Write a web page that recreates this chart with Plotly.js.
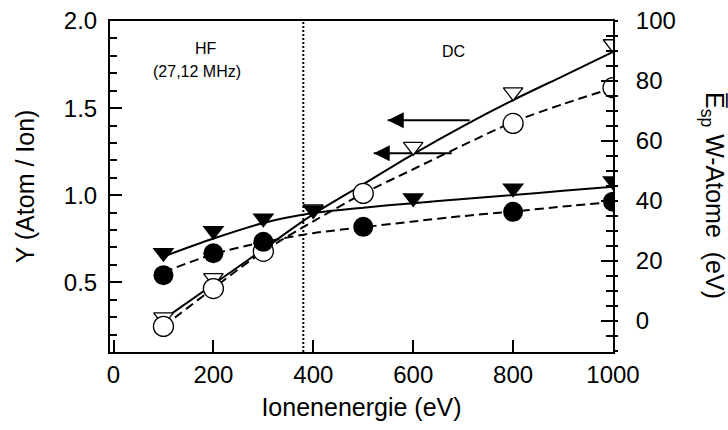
<!DOCTYPE html>
<html>
<head>
<meta charset="utf-8">
<script src="https://cdn.plot.ly/plotly-3.0.1.min.js"></script>
<style>html,body{margin:0;padding:0;background:#fff;}#chart{width:728px;height:430px;}</style>
</head>
<body>
<div id="chart"></div>
<script>
// ---- data ----
// left axis Y (Atom / Ion): open symbols
const openTriX = [100, 200, 300, 400, 600, 800, 1000];
const openTriY = [0.30, 0.525, 0.70, 0.92, 1.279, 1.592, 1.868];
const openCircX = [100, 200, 300, 500, 800, 1000];
const openCircY = [0.247, 0.464, 0.678, 1.010, 1.412, 1.617];
// right axis E_sp (eV): filled symbols
const fillTriX = [100, 200, 300, 400, 600, 800, 1000];
const fillTriE = [22.8, 30.1, 34.3, 37.0, 41.0, 44.3, 46.7];
const fillCircX = [100, 200, 300, 500, 800, 1000];
const fillCircE = [15.3, 22.6, 26.4, 31.4, 36.4, 39.8];
// fitted curves
const fitX = [100, 200, 300, 400, 500, 600, 700, 800, 900, 1000];
const fitOpenTri = [0.287, 0.489, 0.690, 0.891, 1.063, 1.236, 1.397, 1.546, 1.684, 1.822];
const fitOpenCirc = [0.247, 0.466, 0.678, 0.850, 1.010, 1.149, 1.287, 1.420, 1.523, 1.615];
const fitFillTri = [21.5, 27.5, 32.7, 36.0, 37.8, 39.3, 40.7, 42.0, 43.4, 44.8];
const fitFillCirc = [16.3, 22.3, 26.3, 29.3, 31.3, 33.2, 35.0, 36.5, 38.2, 39.7];
// arrows (left axis) and region boundary
const arrowY = [1.431, 1.241];
const arrowTipX = [549, 521];
const arrowTailX = [713, 677];
const boundaryX = 380;
const xTicks = [0, 200, 400, 600, 800, 1000];

const FONT = '"Liberation Sans", Arial, Helvetica, sans-serif';
const traces = [];
const lineStyle = (dash) => ({color: '#000', width: 2, dash: dash, shape: 'spline', smoothing: 0.8});

traces.push({x: fitX, y: fitOpenTri, mode: 'lines', line: lineStyle('solid'), yaxis: 'y', hoverinfo: 'skip'});
traces.push({x: fitX, y: fitOpenCirc, mode: 'lines', line: lineStyle('9px,5px'), yaxis: 'y', hoverinfo: 'skip'});
traces.push({x: fitX, y: fitFillTri, mode: 'lines', line: lineStyle('solid'), yaxis: 'y2', hoverinfo: 'skip'});
traces.push({x: fitX, y: fitFillCirc, mode: 'lines', line: lineStyle('9px,5px'), yaxis: 'y2', hoverinfo: 'skip'});

for (let i = 0; i < arrowY.length; i++) {
  traces.push({x: [arrowTailX[i], arrowTipX[i]], y: [arrowY[i], arrowY[i]], mode: 'lines',
    line: {color: '#000', width: 2}, yaxis: 'y', hoverinfo: 'skip'});
}
traces.push({x: arrowTipX, y: arrowY, mode: 'markers', yaxis: 'y',
  marker: {symbol: 'arrow-left', size: 16, color: '#000', line: {width: 0}}, hoverinfo: 'skip'});

traces.push({x: openTriX, y: openTriY, mode: 'markers', yaxis: 'y',
  marker: {symbol: 'triangle-down', size: 17, color: '#fff', line: {color: '#000', width: 1.3}}});
traces.push({x: openCircX, y: openCircY, mode: 'markers', yaxis: 'y',
  marker: {symbol: 'circle', size: 20, color: '#fff', line: {color: '#000', width: 1.3}}});
traces.push({x: fillCircX, y: fillCircE, mode: 'markers', yaxis: 'y2',
  marker: {symbol: 'circle', size: 20, color: '#000', line: {width: 0}}});
traces.push({x: fillTriX, y: fillTriE, mode: 'markers', yaxis: 'y2',
  marker: {symbol: 'triangle-down', size: 19, color: '#000', line: {width: 0}}});

const layout = {
  width: 728, height: 430,
  margin: {l: 110, r: 115, t: 21, b: 78, pad: 0},
  paper_bgcolor: '#fff', plot_bgcolor: '#fff',
  showlegend: false,
  font: {family: FONT, color: '#000', size: 24},
  xaxis: {
    range: [-7, 1000], tickvals: xTicks, ticks: 'inside', ticklen: 12, tickwidth: 2, tickcolor: '#000',
    showline: true, linewidth: 2, linecolor: '#000', mirror: true,
    showgrid: false, zeroline: false, tickfont: {size: 24},
    title: {text: 'Ionenenergie (eV)', font: {size: 25}, standoff: 12}
  },
  yaxis: {
    range: [0.1, 2.0], tick0: 0, dtick: 0.5, tickformat: '.1f', ticks: 'inside', ticklen: 12, tickwidth: 2, tickcolor: '#000',
    minor: {dtick: 0.1, tick0: 0, ticks: 'inside', ticklen: 7, tickwidth: 2, tickcolor: '#000'},
    showline: true, linewidth: 2, linecolor: '#000',
    showgrid: false, zeroline: false, tickfont: {size: 24}, ticklabelstandoff: 6,
    title: {text: 'Y (Atom / Ion)', font: {size: 25}, standoff: 22}
  },
  yaxis2: {
    overlaying: 'y', side: 'right', range: [-10.3, 100], tick0: 0, dtick: 20,
    ticks: 'inside', ticklen: 12, tickwidth: 2, tickcolor: '#000',
    minor: {dtick: 5, tick0: 0, ticks: 'inside', ticklen: 7, tickwidth: 2, tickcolor: '#000'},
    showline: true, linewidth: 2, linecolor: '#000',
    showgrid: false, zeroline: false, tickfont: {size: 24}, ticklabelstandoff: 16
  },
  yaxis3: {
    overlaying: 'y', side: 'right', range: [-10.3, 100], tick0: 0, dtick: 5,
    ticks: 'outside', ticklen: 4, tickwidth: 2, tickcolor: '#000',
    showticklabels: false, showline: false, showgrid: false, zeroline: false
  },
  shapes: [{type: 'line', xref: 'x', yref: 'paper', x0: boundaryX, x1: boundaryX, y0: 0, y1: 1,
    line: {color: '#000', width: 2, dash: '2px,2px'}}],
  annotations: [
    {xref: 'x', yref: 'y', x: 185, y: 1.845, text: 'HF', showarrow: false, font: {size: 16}},
    {xref: 'x', yref: 'y', x: 168, y: 1.713, text: '(27,12 MHz)', showarrow: false, font: {size: 16}},
    {xref: 'x', yref: 'y', x: 681, y: 1.824, text: 'DC', showarrow: false, font: {size: 16}},
    {xref: 'paper', yref: 'paper', x: 1.199, y: 0.474, xanchor: 'center', yanchor: 'middle',
     text: 'E\u0305<sub>sp</sub> W-Atome\u00a0 (eV)', textangle: 90, showarrow: false, font: {size: 25}}
  ]
};
// dummy trace so yaxis3 is drawn
traces.push({x: [0], y: [0], yaxis: 'y3', mode: 'markers', marker: {opacity: 0}, hoverinfo: 'skip'});

Plotly.newPlot('chart', traces, layout, {staticPlot: true, displayModeBar: false});
</script>
</body>
</html>
